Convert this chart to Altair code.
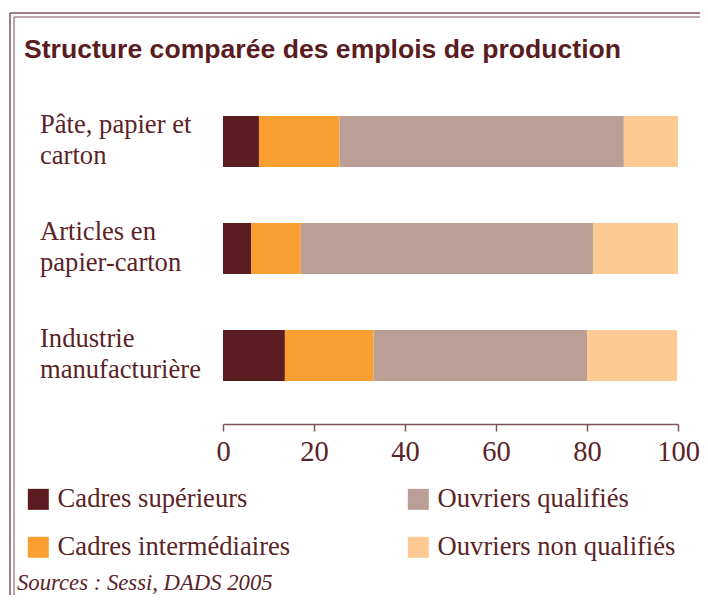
import altair as alt
import pandas as pd

title = "Structure comparée des emplois de production"
source = "Sources : Sessi, DADS 2005"
categories = ["Pâte, papier et\ncarton", "Articles en\npapier-carton", "Industrie\nmanufacturière"]
series = ["Cadres supérieurs", "Cadres intermédiaires", "Ouvriers qualifiés", "Ouvriers non qualifiés"]
colors = ["#5a1c21", "#f99f31", "#bb9f97", "#fdca93"]
cadres_sup = [7.9, 6.2, 13.6]
cadres_int = [17.7, 10.9, 19.5]
ouv_qual = [62.5, 64.2, 46.9]
ouv_nonqual = [11.9, 18.7, 19.8]
x_ticks = [0, 20, 40, 60, 80, 100]

TXT = "#5b2328"
FRAME = "#7d5358"
SERIF = "Times New Roman, Liberation Serif, serif"

rows = []
for s_i, vals in enumerate([cadres_sup, cadres_int, ouv_qual, ouv_nonqual]):
    for c, v in zip(categories, vals):
        rows.append({"cat": c, "serie": series[s_i], "idx": s_i, "val": v})
df = pd.DataFrame(rows)

yscale = alt.Scale(domain=categories, paddingInner=0.523, paddingOuter=0.2615)

bars = alt.Chart(df).mark_bar(size=51).encode(
    y=alt.Y("cat:N", sort=categories, scale=yscale, axis=None),
    x=alt.X("val:Q", stack="zero",
            scale=alt.Scale(domain=[0, 100], nice=False, zero=True),
            axis=alt.Axis(values=x_ticks, title=None, grid=False, offset=15,
                          domainColor=FRAME, tickColor=FRAME, domainWidth=1.5,
                          tickWidth=1.5, tickSize=7, labelPadding=6,
                          labelFont=SERIF, labelFontSize=28.5,
                          labelColor=TXT, labelFlush=False)),
    color=alt.Color("serie:N",
                    scale=alt.Scale(domain=series, range=colors),
                    legend=alt.Legend(title=None, orient="none", legendX=-198, legendY=398,
                                      columns=2, columnPadding=114, rowPadding=21,
                                      symbolType="square", symbolSize=441,
                                      symbolStrokeWidth=0, symbolOpacity=1,
                                      labelFont=SERIF, labelFontSize=26.6,
                                      labelColor=TXT, labelOffset=6, labelLimit=400)),
    order=alt.Order("idx:Q", sort="ascending"),
)

labels = alt.Chart(pd.DataFrame({"cat": categories})).mark_text(
    align="left", baseline="middle", lineBreak="\n", lineHeight=31,
    font=SERIF, fontSize=26.6, color=TXT, dy=-17
).encode(
    y=alt.Y("cat:N", sort=categories, scale=yscale, axis=None),
    x=alt.value(-183),
    text="cat:N",
)

ttl = alt.Chart(pd.DataFrame({"t": [title]})).mark_text(
    align="left", baseline="alphabetic", font="Liberation Sans, Arial, sans-serif",
    fontSize=26.6, fontWeight="bold", color="#5a1c21"
).encode(x=alt.value(-199), y=alt.value(-30), text="t:N")

src = alt.Chart(pd.DataFrame({"t": [source]})).mark_text(
    align="left", baseline="alphabetic", font=SERIF, fontSize=22.7,
    fontStyle="italic", color=TXT
).encode(x=alt.value(-206), y=alt.value(502), text="t:N")

frame_df = pd.DataFrame({"k": [0]})
frame = [
    alt.Chart(frame_df).mark_rule(color=FRAME, strokeWidth=1.5).encode(
        x=alt.value(-213), y=alt.value(-75), y2=alt.value(520)),
    alt.Chart(frame_df).mark_rule(color=FRAME, strokeWidth=1.5).encode(
        x=alt.value(-213), x2=alt.value(500), y=alt.value(-75)),
    alt.Chart(frame_df).mark_rule(color="#a88a8c", strokeWidth=1.5).encode(
        x=alt.value(-209), y=alt.value(-71), y2=alt.value(520)),
    alt.Chart(frame_df).mark_rule(color="#a88a8c", strokeWidth=1.5).encode(
        x=alt.value(-209), x2=alt.value(500), y=alt.value(-71)),
]

chart = alt.layer(*frame, bars, labels, ttl, src).properties(
    width=455, height=321,
    autosize=alt.AutoSizeParams(type="none"),
    padding={"left": 215, "top": 80, "right": 22, "bottom": 186},
).configure_view(stroke=None)

chart.save("out.html", embed_options={"renderer": "svg", "actions": False})
